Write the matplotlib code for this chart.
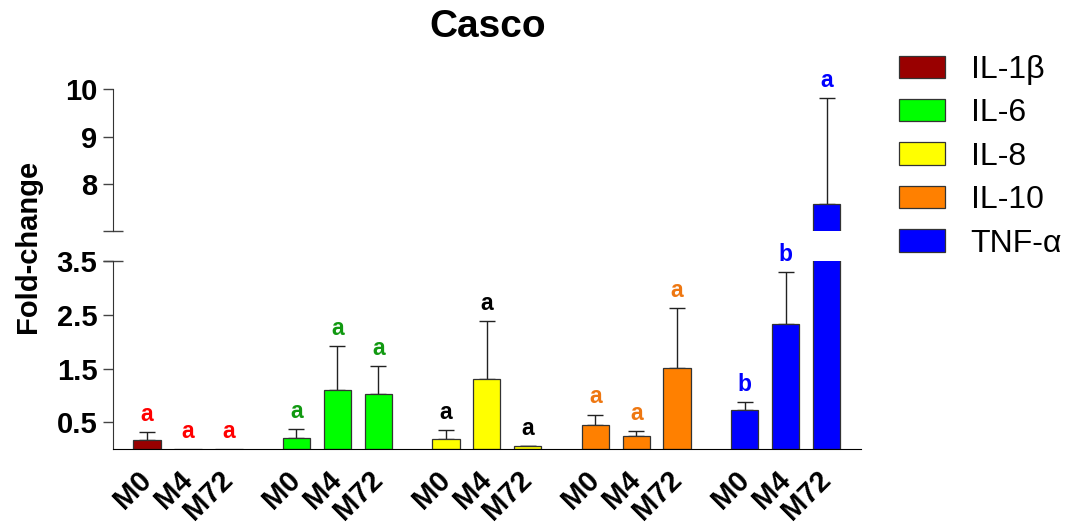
import matplotlib
matplotlib.use('Agg')
import matplotlib.pyplot as plt
from matplotlib.patches import Patch

plt.rcParams['font.family'] = ['Liberation Sans', 'DejaVu Sans']

cytokines = ['IL-1β', 'IL-6', 'IL-8', 'IL-10', 'TNF-α']
timepoints = ['M0', 'M4', 'M72']

il1b_mean = [0.17, 0.0, 0.0]
il6_mean = [0.20, 1.10, 1.03]
il8_mean = [0.19, 1.30, 0.05]
il10_mean = [0.45, 0.25, 1.51]
tnf_mean = [0.73, 2.33, 7.57]

il1b_sd = [0.14, 0.0, 0.0]
il6_sd = [0.17, 0.82, 0.52]
il8_sd = [0.16, 1.09, 0.01]
il10_sd = [0.19, 0.08, 1.11]
tnf_sd = [0.15, 0.97, 2.25]

il1b_letters = ['a', 'a', 'a']
il6_letters = ['a', 'a', 'a']
il8_letters = ['a', 'a', 'a']
il10_letters = ['a', 'a', 'a']
tnf_letters = ['b', 'b', 'a']

means = [il1b_mean, il6_mean, il8_mean, il10_mean, tnf_mean]
sds = [il1b_sd, il6_sd, il8_sd, il10_sd, tnf_sd]
letters = [il1b_letters, il6_letters, il8_letters, il10_letters, tnf_letters]

bar_colors = ['#990000', '#00ff00', '#ffff00', '#ff8000', '#0000ff']
letter_colors = ['#ff0000', '#119911', '#000000', '#ee7711', '#0000ff']

group_gap = 3.65
bar_w = 0.67
lo_top = 3.5
hi_bot, hi_top = 7.0, 10.0

fig = plt.figure(figsize=(10.7, 5.25), dpi=100)
ax_lo = fig.add_axes([0.1059, 0.1448, 0.6988, 0.3575])
ax_hi = fig.add_axes([0.1059, 0.56, 0.6988, 0.27])

xt, xl = [], []
for g, name in enumerate(cytokines):
    xs = [g * group_gap + i for i in range(len(timepoints))]
    xt += xs
    xl += timepoints
    for ax in (ax_lo, ax_hi):
        ax.bar(xs, means[g], width=bar_w, color=bar_colors[g],
               edgecolor='#333333', linewidth=0.9, zorder=2)
        ex = [x for x, s in zip(xs, sds[g]) if s > 0]
        ey = [m for m, s in zip(means[g], sds[g]) if s > 0]
        es = [s for s in sds[g] if s > 0]
        ax.errorbar(ex, ey, yerr=[[0] * len(es), es], fmt='none',
                    ecolor='#222222', elinewidth=1.0, capsize=6, capthick=1.0, zorder=1)
    for x, m, s, lt in zip(xs, means[g], sds[g], letters[g]):
        top = m + s
        ax = ax_hi if top > lo_top else ax_lo
        ax.annotate(lt, (x, top), xytext=(0, 4.5), textcoords='offset points',
                    ha='center', va='bottom', fontsize=16.5, fontweight='bold',
                    color=letter_colors[g], annotation_clip=False)

xmin, xmax = -0.82, 4 * group_gap + 2 + 0.84
for ax in (ax_lo, ax_hi):
    ax.set_xlim(xmin, xmax)
    ax.spines['top'].set_visible(False)
    ax.spines['right'].set_visible(False)
    ax.spines['left'].set_color('#333333')
    ax.tick_params(axis='y', direction='out', length=7.5, width=1.0, color='#444444',
                   labelsize=21, pad=4)

ax_lo.set_ylim(0, lo_top)
ax_lo.set_yticks([0.5, 1.5, 2.5, 3.5])
ax_lo.set_yticklabels(['0.5', '1.5', '2.5', '3.5'], fontweight='bold', fontsize=21)
ax_lo.spines['bottom'].set_color('black')
ax_lo.set_xticks(xt)
ax_lo.set_xticklabels(xl, rotation=45, ha='right', va='center', rotation_mode='anchor',
                      fontsize=21, fontweight='bold')
ax_lo.tick_params(axis='x', length=0, pad=19)

ax_hi.set_ylim(hi_bot, hi_top)
ax_hi.set_yticks([8, 9, 10])
ax_hi.set_yticklabels(['8', '9', '10'], fontweight='bold', fontsize=21)
ax_hi.spines['bottom'].set_visible(False)
ax_hi.set_xticks([])

# axis break marks
ax_lo.plot([0], [1], marker='_', markersize=15, markeredgewidth=1.0, color='#444444',
           transform=ax_lo.transAxes, clip_on=False)
ax_hi.plot([0], [0], marker='_', markersize=15, markeredgewidth=1.0, color='#444444',
           transform=ax_hi.transAxes, clip_on=False)

fig.text(0.456, 1 - 27 / 525, 'Casco', ha='center', va='center', fontsize=28, fontweight='bold')
fig.text(0.026, 0.53, 'Fold-change', rotation=90, ha='center', va='center',
         fontsize=21, fontweight='bold')

handles = [Patch(facecolor=c, edgecolor='#333333', linewidth=0.9) for c in bar_colors]
fig.legend(handles, cytokines, loc='upper left', bbox_to_anchor=(0.840, 1 - 55 / 525),
           frameon=False, fontsize=23, handlelength=1.45, handleheight=0.7,
           handletextpad=0.8, labelspacing=0.42, borderpad=0, borderaxespad=0)

fig.savefig('out.png', dpi=100)
